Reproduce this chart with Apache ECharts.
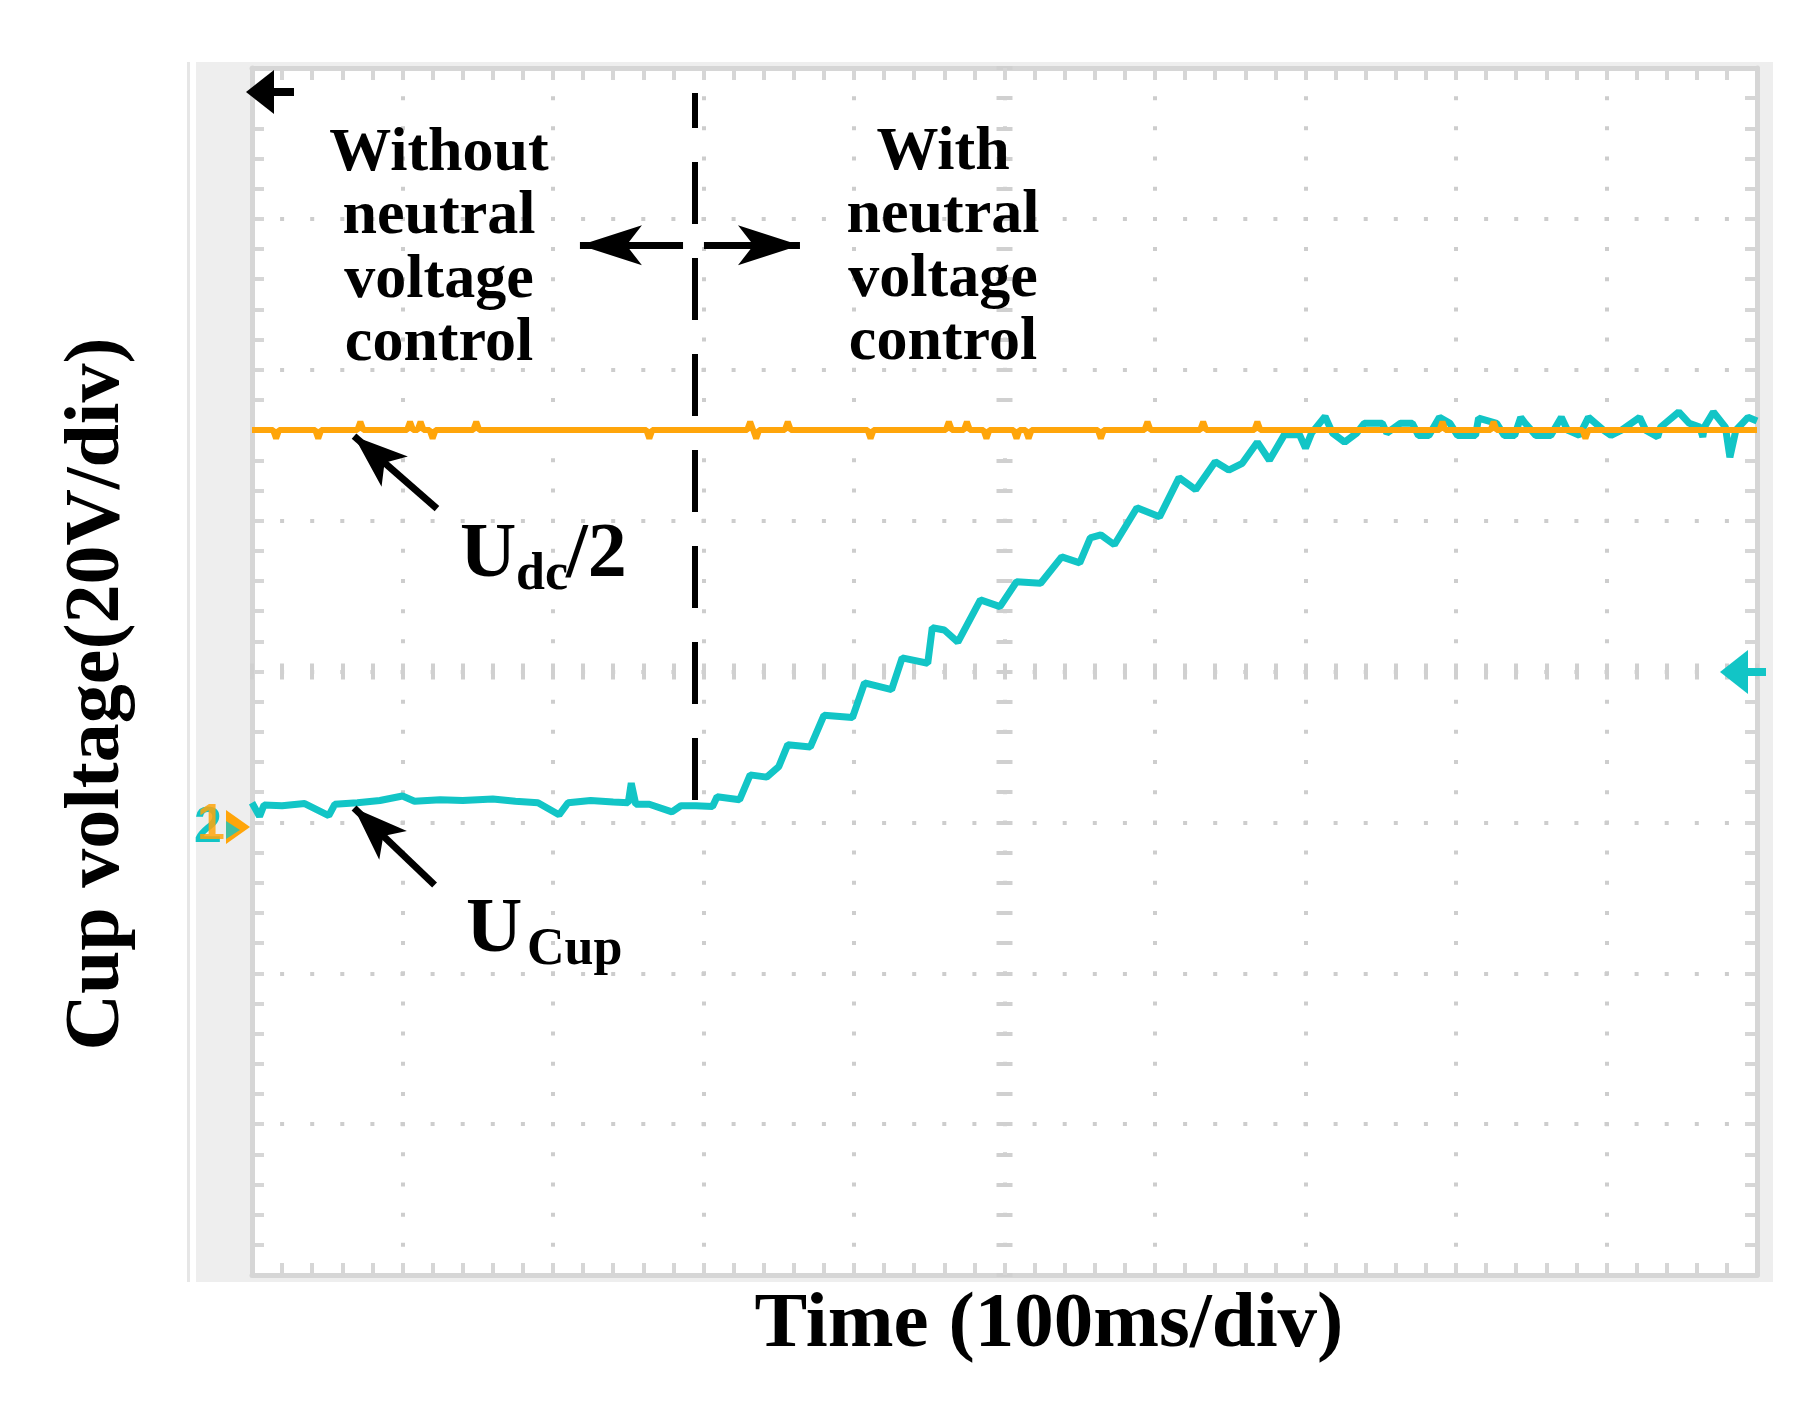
<!DOCTYPE html>
<html>
<head>
<meta charset="utf-8">
<script src="https://cdn.jsdelivr.net/npm/echarts@6/dist/echarts.min.js"></script>
<style>html,body{margin:0;padding:0;background:#fff}#c{width:1805px;height:1406px}</style>
</head>
<body>
<div id="c"></div>
<script>
// ---- data (time in ms, voltage in V; 100 ms/div, 20 V/div) ----
const timeRange = [0, 1000];
const voltRange = [-60, 100];
const cyanTime = [0,5,8,20,35,51,55,70,85,100,108,125,140,160,175,190,204,210,225,240,250,252,255,264,279,285,295,306,
  309,324,331,342,350,356,371,380,399,407,425,432,449,452,460,469,484,497,508,524,538,550,557,564,573,588,603,616,627,640,649,658,668,676,686,
  696,700,704,713,718,726,734,739,751,754,763,771,775,782,789,796,801,813,815,827,832,839,843,846,853,863,870,874,882,888,898,903,910,922,926,934,936,948,955,962,964,965,971,979,982,986,994,1000];
const cyanValue = [2.6,0.8,2.3,2.2,2.5,0.9,2.4,2.6,2.9,3.5,2.8,3.0,2.9,3.1,2.8,2.6,1.0,2.6,2.9,2.7,2.6,5.2,2.4,2.4,1.4,2.2,2.2,2.1,
  3.4,3.0,6.3,6.0,7.4,10.3,10.0,14.2,13.9,18.5,17.6,21.8,21.1,25.8,25.5,23.9,29.5,28.6,31.9,31.7,35.2,34.4,37.7,38.1,36.8,41.7,40.5,45.7,44.1,47.8,46.7,47.6,50.4,48.0,51.4,
  51.4,49.6,51.6,53.8,51.6,50.4,51.6,52.9,52.9,51.6,52.9,52.9,51.3,51.3,53.7,52.9,51.3,51.3,53.6,52.9,51.3,51.3,53.7,52.9,51.3,51.3,53.7,52.0,51.3,53.7,52.0,51.3,52.0,53.7,52.0,51.1,52.4,54.4,52.9,52.4,51.1,52.4,54.4,52.4,48.4,52.0,53.7,53.2];
const orangeTime = [0,14,16,18,42,44,46,70,72,74,103,105,107,110,112,114,118,120,122,147,149,151,262,264,266,329,331,333,335,337,354,356,358,
  409,411,413,461,463,465,473,475,477,486,488,490,506,508,510,514,516,518,562,564,566,593,595,597,630,632,634,666,668,670,789,791,793,823,825,827,884,886,888,1000];
const orangeValue = [52,52,50.9,52,52,50.9,52,52,53.1,52,52,53.1,52,52,53.1,52,52,50.9,52,52,53.1,52,52,50.9,52,52,53.1,52,50.9,52,52,53.1,52,
  52,50.9,52,52,53.1,52,52,53.1,52,52,50.9,52,52,50.9,52,52,50.9,52,52,50.9,52,52,53.1,52,52,53.1,52,52,53.1,52,52,53.1,52,52,53.1,52,52,50.9,52,52];

const SERIF = "'Liberation Serif','Times New Roman',serif";
const CYAN = '#12c5c6', ORANGE = '#ffa50a';
const GRID = {left: 252, top: 68, width: 1505, height: 1207};
const dotGray = '#cdcdcd', borderGray = '#d6d6d6', centerGray = '#d0d0d0';
const cellX = GRID.width / 10 / 5, cellY = GRID.height / 8 / 5;

function borderAxis(pos, min, max, interval, split) {
  return {
    type: 'value', position: pos, min: min, max: max, interval: interval,
    axisLine: {show: true, onZero: false, lineStyle: {color: borderGray, width: 5}},
    axisTick: {show: true, inside: true, length: 12, lineStyle: {color: borderGray, width: 4}},
    minorTick: {show: true, splitNumber: 5, length: 12, lineStyle: {color: borderGray, width: 4}},
    axisLabel: {show: false},
    splitLine: split || {show: false},
    minorSplitLine: {show: false}
  };
}
function centerAxis(pos, min, max, interval, zeroIdx) {
  return {
    type: 'value', position: pos, min: min, max: max, interval: interval,
    axisLine: {show: false, onZero: true, onZeroAxisIndex: zeroIdx},
    axisTick: {show: true, inside: true, length: 8, lineStyle: {color: centerGray, width: 4}},
    minorTick: {show: true, splitNumber: 5, length: 8, lineStyle: {color: centerGray, width: 4}},
    axisLabel: {show: false},
    splitLine: {show: false},
    minorSplitLine: {show: false}
  };
}

const chart = echarts.init(document.getElementById('c'), null, {renderer: 'canvas', width: 1805, height: 1406});

const txt = (x, y, text, size, extra) => ({
  type: 'text', x: x, y: y, z: 60, silent: true,
  style: Object.assign({
    text: text, font: 'bold ' + size + 'px ' + SERIF, fill: '#000',
    textAlign: 'left', align: 'left', textVerticalAlign: 'middle', verticalAlign: 'middle'
  }, extra || {})
});

const option = {
  animation: false,
  backgroundColor: '#ffffff',
  grid: Object.assign({show: false, containLabel: false, outerBoundsMode: 'none'}, GRID),
  xAxis: [
    borderAxis('bottom', timeRange[0], timeRange[1], 100,
      {show: true, lineStyle: {color: dotGray, width: 4, type: [4, cellY - 4], dashOffset: 2}}),
    borderAxis('top', -500, 500, 100),
    centerAxis('top', timeRange[0], timeRange[1], 100, 1),
    centerAxis('bottom', timeRange[0], timeRange[1], 100, 1)
  ],
  yAxis: [
    borderAxis('left', voltRange[0], voltRange[1], 20,
      {show: true, lineStyle: {color: dotGray, width: 4, type: [4, cellX - 4], dashOffset: 2}}),
    borderAxis('right', -80, 80, 20),
    centerAxis('right', voltRange[0], voltRange[1], 20, 1),
    centerAxis('left', voltRange[0], voltRange[1], 20, 1)
  ],
  series: [
    {
      name: 'UCup', type: 'line', xAxisIndex: 0, yAxisIndex: 0, z: 3,
      symbol: 'none', showSymbol: false, silent: true,
      lineStyle: {color: CYAN, width: 7},
      data: cyanTime.map((t, i) => [t, cyanValue[i]])
    },
    {
      name: 'Udc/2', type: 'line', xAxisIndex: 0, yAxisIndex: 0, z: 4,
      symbol: 'none', showSymbol: false, silent: true,
      lineStyle: {color: ORANGE, width: 6},
      data: orangeTime.map((t, i) => [t, orangeValue[i]])
    },
    {
      name: 'annotations', type: 'line', xAxisIndex: 0, yAxisIndex: 0, z: 6, data: [],
      markLine: {
        silent: true, animation: false, symbol: ['none', 'none'],
        label: {show: false},
        lineStyle: {color: '#000', width: 7, type: 'solid'},
        emphasis: {disabled: true},
        data: [
          [{coord: [294, 96.7], lineStyle: {type: [62, 34], dashOffset: 27, width: 6, color: '#000'}}, {coord: [294, 2.6]}],
          [{coord: [286.4, 76.5]}, {coord: [217.9, 76.5], symbol: 'arrow', symbolSize: [30, 62]}],
          [{coord: [300.3, 76.5]}, {coord: [364.1, 76.5], symbol: 'arrow', symbolSize: [30, 62]}],
          [{coord: [122.9, 41.6]}, {coord: [67.8, 51.2], symbol: 'arrow', symbolSize: [30, 54]}],
          [{coord: [121.3, -8.3]}, {coord: [67.8, 1.9], symbol: 'arrow', symbolSize: [30, 54]}]
        ]
      }
    }
  ],
  graphic: [
    {type: 'rect', z: -20, silent: true, shape: {x: 196, y: 62, width: 1577, height: 1220}, style: {fill: '#eeeeee'}},
    {type: 'rect', z: -20, silent: true, shape: {x: 187, y: 62, width: 3, height: 1220}, style: {fill: '#e6e6e6'}},
    {type: 'rect', z: -19, silent: true, shape: {x: GRID.left, y: GRID.top, width: GRID.width, height: GRID.height}, style: {fill: '#ffffff'}},
    // oscilloscope markers
    {type: 'polygon', z: 50, silent: true, shape: {points: [[246, 92], [274, 70], [274, 114]]}, style: {fill: '#000'}},
    {type: 'rect', z: 50, silent: true, shape: {x: 268, y: 88, width: 26, height: 8}, style: {fill: '#000'}},
    {type: 'polygon', z: 50, silent: true, shape: {points: [[1720, 672], [1748, 650], [1748, 694]]}, style: {fill: CYAN}},
    {type: 'rect', z: 50, silent: true, shape: {x: 1742, y: 668, width: 24, height: 8}, style: {fill: CYAN}},
    txt(194, 828, '2', 50, {font: 'bold 50px "Liberation Sans", Arial, sans-serif', fill: CYAN}),
    txt(197, 825, '1', 50, {font: 'bold 50px "Liberation Sans", Arial, sans-serif', fill: ORANGE, opacity: 0.85}),
    {type: 'polygon', z: 60, silent: true, shape: {points: [[226, 810], [250, 827], [226, 844]]}, style: {fill: ORANGE}},
    {type: 'polygon', z: 61, silent: true, shape: {points: [[226, 821], [240, 830], [226, 839]]}, style: {fill: CYAN, opacity: 0.8}},
    // annotation texts
    txt(439, 122, 'Without\nneutral\nvoltage\ncontrol', 62, {textAlign: 'center', align: 'center', textVerticalAlign: 'top', verticalAlign: 'top', lineHeight: 63.5}),
    txt(943, 121, 'With\nneutral\nvoltage\ncontrol', 62, {textAlign: 'center', align: 'center', textVerticalAlign: 'top', verticalAlign: 'top', lineHeight: 63.5}),
    txt(460, 556, 'U', 78),
    txt(516, 576, 'dc', 52),
    txt(566, 556, '/2', 78),
    txt(466, 931, 'U', 78),
    txt(527, 951, 'Cup', 52),
    // axis titles
    txt(1049, 1326, 'Time (100ms/div)', 79, {textAlign: 'center', align: 'center'}),
    Object.assign(txt(98, 694, 'Cup voltage(20V/div)', 78, {textAlign: 'center', align: 'center'}), {rotation: Math.PI / 2})
  ]
};
chart.setOption(option);
</script>
</body>
</html>
